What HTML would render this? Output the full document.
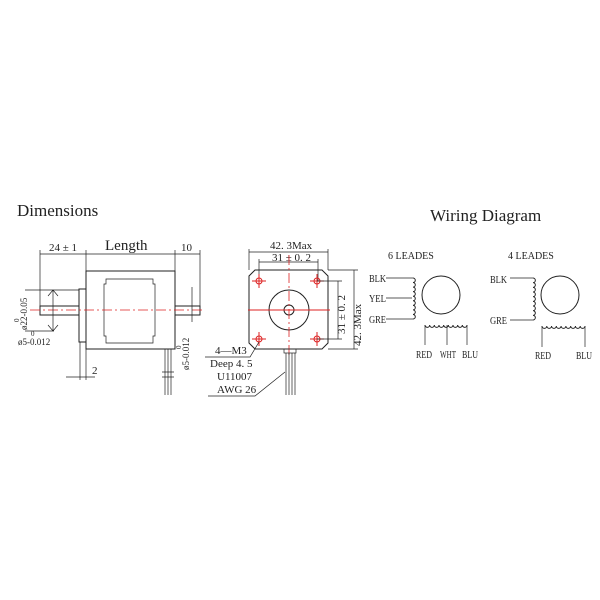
<!DOCTYPE html>
<html><head><meta charset="utf-8"><style>
html,body{margin:0;padding:0;background:#fff;}
svg{display:block}
text{font-family:"Liberation Serif",serif;fill:#222}
.s{stroke:#222;stroke-width:1;fill:none}
.t{stroke:#222;stroke-width:0.7;fill:none}
.c{stroke:#222;stroke-width:1;fill:none}
.r{stroke:#d22;stroke-width:0.8;fill:none;stroke-dasharray:10 3 2 3}
</style></head><body>
<svg id="g" width="600" height="600" viewBox="0 0 600 600" xmlns="http://www.w3.org/2000/svg">
<text x="17" y="216" font-size="17">Dimensions</text>
<text x="430" y="221" font-size="17">Wiring Diagram</text>

<!-- LEFT VIEW -->
<g font-size="11">
<text x="49" y="251">24 ± 1</text>
<text x="105" y="250" font-size="15">Length</text>
<text x="181" y="251">10</text>
</g>
<path class="t" d="M40 254H200 M40 250V306 M86 250V271 M175 250V306 M200 250V306"/>
<rect class="s" x="86" y="271" width="89" height="78"/>
<path class="t" d="M106 279H153V284H155V336H153V343H106V336H104V284H106Z"/>
<rect class="s" x="79" y="289" width="7" height="53"/>
<rect class="s" x="40" y="306" width="39" height="9"/>
<rect class="s" x="175" y="306" width="25" height="9"/>
<path class="r" d="M30 310H204"/>
<path class="t" d="M25 290H79 M25 331H54 M53 290V331 M48 296L53 290L58 296 M48 325L53 331L58 325 M192 287V322"/>
<text transform="translate(27,330) rotate(-90)" font-size="9">ø22-0.05</text>
<text transform="translate(19,322) rotate(-90)" font-size="7">0</text>
<text x="18" y="345" font-size="9">ø5-0.012</text>
<text x="31" y="336" font-size="7">0</text>
<text transform="translate(189,370) rotate(-90)" font-size="9">ø5-0.012</text>
<text transform="translate(181,349) rotate(-90)" font-size="7">0</text>
<path class="t" d="M80 342V380 M86 349V380 M66 377H95"/>
<text x="92" y="374" font-size="11">2</text>
<path class="t" d="M165 349V395 M168 349V395 M171 349V395 M162 372H174 M162 377H174"/>

<!-- FRONT VIEW -->
<g font-size="11">
<text x="270" y="249">42. 3Max</text>
<text x="272" y="261">31 ± 0. 2</text>
</g>
<path class="t" d="M249 252H328 M259 262H318 M249 249V270 M328 249V270 M259 259V281 M318 259V281"/>
<path class="s" d="M255 270H322L328 276V343L322 349H255L249 343V276Z"/>
<circle class="s" cx="289" cy="310" r="20"/>
<circle class="s" cx="289" cy="310" r="5"/>
<g stroke="#d22" fill="none" stroke-width="1">
<circle cx="259" cy="281" r="3"/><circle cx="317" cy="281" r="3"/>
<circle cx="259" cy="339" r="3"/><circle cx="317" cy="339" r="3"/>
<path d="M252 281H266 M310 281H324 M252 339H266 M310 339H324 M259 274V288 M317 274V288 M259 332V346 M317 332V346 M248 310H330"/>
</g>
<path class="r" d="M289 255V355"/>
<path class="t" d="M317 281H342 M317 339H342 M328 270H358 M328 349H358 M338 281V339 M354 270V349"/>
<text transform="translate(345,334) rotate(-90)" font-size="11">31 ± 0. 2</text>
<text transform="translate(361,346) rotate(-90)" font-size="11">42. 3Max</text>
<rect class="t" x="284" y="349" width="12" height="4"/>
<path class="t" d="M286 353V395 M289 353V395 M292 353V395 M295 353V395"/>
<g font-size="11">
<text x="215" y="354">4—M3</text>
<text x="210" y="367">Deep 4. 5</text>
<text x="217" y="380">U11007</text>
<text x="217" y="393">AWG 26</text>
</g>
<path class="t" d="M205 357H250L259 342 M208 396H255L285 372"/>

<!-- WIRING -->
<g font-size="10">
<text x="388" y="259">6  LEADES</text>
<text x="508" y="259">4  LEADES</text>
<text x="369" y="282" textLength="17" lengthAdjust="spacingAndGlyphs">BLK</text>
<text x="369" y="302" textLength="17" lengthAdjust="spacingAndGlyphs">YEL</text>
<text x="369" y="323" textLength="17" lengthAdjust="spacingAndGlyphs">GRE</text>
<text x="416" y="358" textLength="16" lengthAdjust="spacingAndGlyphs">RED</text>
<text x="440" y="358" textLength="16" lengthAdjust="spacingAndGlyphs">WHT</text>
<text x="462" y="358" textLength="16" lengthAdjust="spacingAndGlyphs">BLU</text>
<text x="490" y="283" textLength="17" lengthAdjust="spacingAndGlyphs">BLK</text>
<text x="490" y="324" textLength="17" lengthAdjust="spacingAndGlyphs">GRE</text>
<text x="535" y="359" textLength="16" lengthAdjust="spacingAndGlyphs">RED</text>
<text x="576" y="359" textLength="16" lengthAdjust="spacingAndGlyphs">BLU</text>
</g>
<path class="t" d="M386 278H413 M386 298H412 M386 319H413 M425 325V345 M447 325V345 M467 325V345 M510 278H533 M510 320H533 M542 326V347 M585 326V347"/>
<circle class="s" cx="441" cy="295" r="19"/>
<circle class="s" cx="560" cy="295" r="19"/>
<path id="c1" class="c"/><path id="c2" class="c"/><path id="c3" class="c"/><path id="c4" class="c"/>
</svg>
<script>
function vc(x,y0,y1,n){var h=(y1-y0)/n,d="M"+x+" "+y0;for(var i=0;i<n;i++){d+=" a"+(h/2)+" "+(h/2)+" 0 0 1 0 "+h;}return d;}
function hc(y,x0,x1,n){var w=(x1-x0)/n,d="M"+x0+" "+y;for(var i=0;i<n;i++){d+=" a"+(w/2)+" "+(w/2)+" 0 0 0 "+w+" 0";}return d;}
document.getElementById("c1").setAttribute("d",vc(413,278,319,9));
document.getElementById("c2").setAttribute("d",hc(325,425,467,9));
document.getElementById("c3").setAttribute("d",vc(533,278,320,9));
document.getElementById("c4").setAttribute("d",hc(326,542,585,9));
</script>
</body></html>
